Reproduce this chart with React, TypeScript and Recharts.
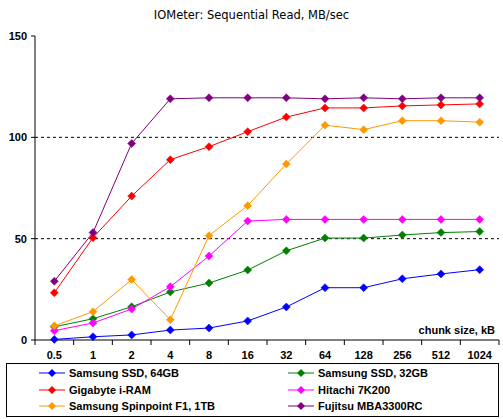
import React from 'react';
import { LineChart, Line, XAxis, YAxis, ReferenceLine } from 'recharts';

const categories = ['0.5', '1', '2', '4', '8', '16', '32', '64', '128', '256', '512', '1024'];
const yTicks = [0, 50, 100, 150];

const samsungSsd64 = [0.3, 1.6, 2.5, 4.9, 5.9, 9.4, 16.3, 25.8, 25.8, 30.2, 32.6, 34.7];
const samsungSsd32 = [6.5, 10.5, 16.4, 23.7, 28.1, 34.5, 44, 50.3, 50.3, 51.8, 53, 53.5];
const gigabyteIRam = [23.3, 50.5, 71, 89, 95.4, 102.8, 110, 114.5, 114.5, 115.5, 116, 116.5];
const hitachi7k200 = [4.6, 8.4, 15.3, 26.3, 41.4, 58.7, 59.5, 59.5, 59.5, 59.5, 59.5, 59.5];
const spinpointF1 = [7, 14, 29.8, 10, 51.5, 66.3, 86.8, 106, 103.8, 108.2, 108.2, 107.5];
const fujitsuMba = [29, 53, 97, 119, 119.5, 119.5, 119.5, 119, 119.5, 119, 119.5, 119.5];

const series = [
  { key: 'ssd64', name: 'Samsung SSD, 64GB', color: '#0000ff', values: samsungSsd64 },
  { key: 'ssd32', name: 'Samsung SSD, 32GB', color: '#008000', values: samsungSsd32 },
  { key: 'iram', name: 'Gigabyte i-RAM', color: '#ff0000', values: gigabyteIRam },
  { key: 'hitachi', name: 'Hitachi 7K200', color: '#ff00ff', values: hitachi7k200 },
  { key: 'spinpoint', name: 'Samsung Spinpoint F1, 1TB', color: '#ff9900', values: spinpointF1 },
  { key: 'fujitsu', name: 'Fujitsu MBA3300RC', color: '#800080', values: fujitsuMba },
];

const data = categories.map((chunk, i) => {
  const row: Record<string, string | number> = { chunk };
  series.forEach((s) => (row[s.key] = s.values[i]));
  return row;
});

const W = 503;
const H = 419;
const M = { top: 36, right: 4, left: 0, bottom: 59 };
const Y_AXIS_W = 35;
const plotW = W - Y_AXIS_W - M.right;
const band = plotW / categories.length;
const font = '"Liberation Sans", Arial, sans-serif';

const Diamond = (props: any) => {
  const { cx, cy, stroke } = props;
  if (cx == null || cy == null) return null;
  const r = 4;
  return <polygon points={`${cx},${cy - r} ${cx + r},${cy} ${cx},${cy + r} ${cx - r},${cy}`} fill={stroke} stroke={stroke} strokeWidth={0.5} />;
};

const XTick = (props: any) => {
  const { x, y, payload, index } = props;
  const last = index === categories.length - 1;
  return (
    <g>
      <line x1={x - band / 2} y1={y} x2={x - band / 2} y2={y + 5} stroke="#000" />
      {last && <line x1={x + band / 2} y1={y} x2={x + band / 2} y2={y + 5} stroke="#000" />}
      <text x={x} y={y + 19} textAnchor="middle" fontFamily={font} fontWeight="bold" fontSize={11} fill="#000">
        {payload.value}
      </text>
    </g>
  );
};

function LegendMark({ color }: { color: string }) {
  return (
    <svg width={26} height={10} style={{ display: 'block' }}>
      <line x1={0} y1={5} x2={26} y2={5} stroke={color} />
      <polygon points="13,1 17,5 13,9 9,5" fill={color} />
    </svg>
  );
}

export default function App() {
  return (
    <div style={{ position: 'absolute', left: 0, top: 0, width: W, height: H, background: '#fff' }}>
      <div
        style={{
          position: 'absolute',
          top: 8,
          left: 0,
          width: W,
          textAlign: 'center',
          fontFamily: '"DejaVu Sans", sans-serif',
          fontSize: 11.5,
          color: '#000',
        }}
      >
        IOMeter: Sequential Read, MB/sec
      </div>
      <LineChart width={W} height={H} data={data} margin={M}>
        <XAxis
          dataKey="chunk"
          scale="band"
          height={20}
          axisLine={{ stroke: '#000' }}
          tickLine={false}
          tickSize={0}
          tickMargin={0}
          interval={0}
          tick={<XTick />}
        />
        <XAxis xAxisId="top" orientation="top" dataKey="chunk" scale="band" height={0} tick={false} tickLine={false} axisLine={{ stroke: '#808080' }} />
        <YAxis
          domain={[0, 150]}
          ticks={yTicks}
          width={Y_AXIS_W}
          axisLine={{ stroke: '#000' }}
          tickLine={{ stroke: '#000' }}
          tickSize={4}
          tickMargin={4}
          tick={{ fill: '#000', fontFamily: font, fontWeight: 'bold', fontSize: 11 }}
        />
        <YAxis yAxisId="right" orientation="right" width={0} domain={[0, 150]} tick={false} tickLine={false} axisLine={{ stroke: '#808080' }} />
        <ReferenceLine y={50} stroke="#000" strokeDasharray="3 3" />
        <ReferenceLine y={100} stroke="#000" strokeDasharray="3 3" />
        {series.map((s) => (
          <Line
            key={s.key}
            dataKey={s.key}
            name={s.name}
            stroke={s.color}
            strokeWidth={1}
            dot={<Diamond />}
            activeDot={false}
            isAnimationActive={false}
          />
        ))}
        <text x={495} y={334} textAnchor="end" fontFamily={font} fontWeight="bold" fontSize={11} fill="#000">
          chunk size, kB
        </text>
      </LineChart>
      <div
        style={{
          position: 'absolute',
          left: 6,
          top: 363,
          width: 491,
          height: 51,
          border: '1px solid #000',
          display: 'grid',
          gridTemplateColumns: '249px 1fr',
          gridAutoRows: '16.5px',
          paddingTop: 1,
          fontFamily: font,
          fontWeight: 'bold',
          fontSize: 11,
          color: '#000',
        }}
      >
        {series.map((s) => (
          <div key={s.key} style={{ display: 'flex', alignItems: 'center', paddingLeft: 32 }}>
            <LegendMark color={s.color} />
            <span style={{ marginLeft: 4 }}>{s.name}</span>
          </div>
        ))}
      </div>
    </div>
  );
}
